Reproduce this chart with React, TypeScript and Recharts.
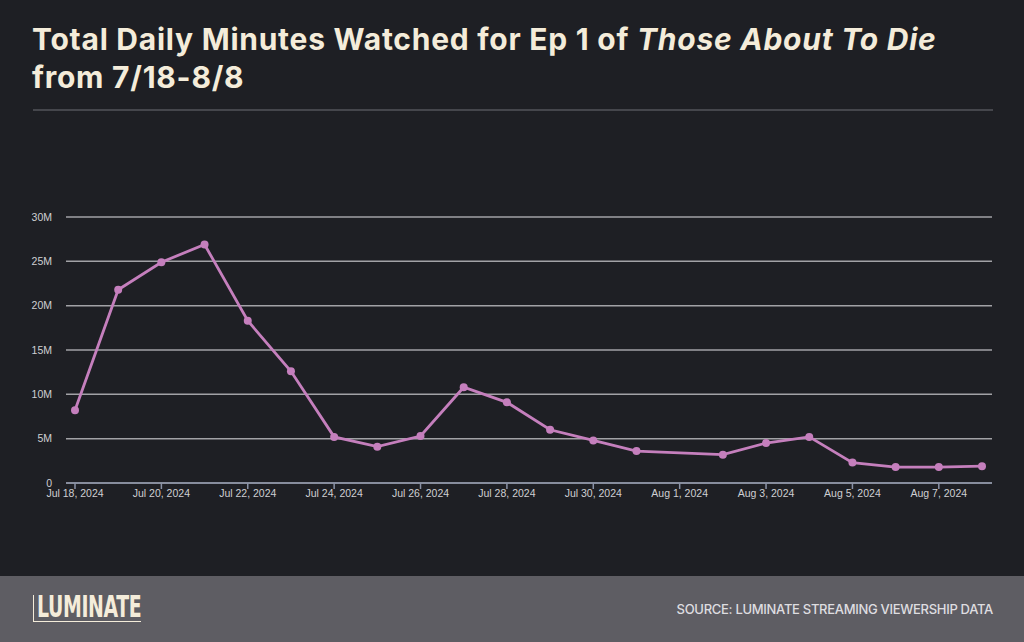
import { LineChart, Line, XAxis, YAxis, CartesianGrid } from 'recharts'

// daily minutes watched, millions (Aug 1 not reported)
const dates = [
  '2024-07-18', '2024-07-19', '2024-07-20', '2024-07-21', '2024-07-22', '2024-07-23',
  '2024-07-24', '2024-07-25', '2024-07-26', '2024-07-27', '2024-07-28', '2024-07-29',
  '2024-07-30', '2024-07-31', '2024-08-02', '2024-08-03', '2024-08-04', '2024-08-05',
  '2024-08-06', '2024-08-07', '2024-08-08',
]
const minutes = [
  8.2, 21.8, 24.9, 26.9, 18.3, 12.6,
  5.2, 4.1, 5.3, 10.8, 9.1, 6.0,
  4.8, 3.6, 3.2, 4.5, 5.2, 2.3,
  1.8, 1.8, 1.9,
]
const xTicks = [
  '2024-07-18', '2024-07-20', '2024-07-22', '2024-07-24', '2024-07-26', '2024-07-28',
  '2024-07-30', '2024-08-01', '2024-08-03', '2024-08-05', '2024-08-07',
]
const yTicks = [0, 5, 10, 15, 20, 25, 30]

const MONTHS = ['Jan', 'Feb', 'Mar', 'Apr', 'May', 'Jun', 'Jul', 'Aug', 'Sep', 'Oct', 'Nov', 'Dec']

function toTs(s: string) {
  const [y, m, d] = s.split('-').map(Number)
  return Date.UTC(y, m - 1, d)
}

function fmtDate(ts: number) {
  const d = new Date(ts)
  return `${MONTHS[d.getUTCMonth()]} ${d.getUTCDate()}, ${d.getUTCFullYear()}`
}

const data = dates.map((d, i) => ({ ts: toTs(d), value: minutes[i] }))

const CREAM = '#f4ecda'
const LINE = '#c57fbd'
const TICK_FONT = '"Liberation Sans", Arial, sans-serif'

export default function App() {
  return (
    <div
      style={{
        position: 'relative',
        width: 1024,
        height: 642,
        background: '#1e1f24',
        overflow: 'hidden',
        fontFamily: 'Inter, sans-serif',
      }}
    >
      <style>{'body{margin:0}'}</style>
      <div
        style={{
          position: 'absolute',
          left: 32,
          top: 20,
          color: CREAM,
          fontSize: 30,
          fontWeight: 700,
          lineHeight: '38px',
          letterSpacing: 0.75,
          whiteSpace: 'nowrap',
        }}
      >
        Total Daily Minutes Watched for Ep 1 of <i>Those About To Die</i>
        <br />
        from 7/18-8/8
      </div>
      <div style={{ position: 'absolute', left: 33, top: 109, width: 960, height: 2, background: '#45464c' }} />

      <div style={{ position: 'absolute', left: 0, top: 0 }}>
        <LineChart width={1024} height={576} data={data} margin={{ top: 217, right: 32, bottom: 63, left: 6 }}>
          <CartesianGrid horizontal vertical={false} stroke="#a2a2a6" strokeWidth={1.5} />
          <XAxis
            dataKey="ts"
            type="number"
            scale="time"
            domain={[toTs('2024-07-18'), toTs('2024-08-08')]}
            ticks={xTicks.map(toTs)}
            tickFormatter={fmtDate}
            padding={{ left: 9, right: 10 }}
            height={30}
            stroke="#8a92a6"
            strokeWidth={1.5}
            tickSize={6}
            tickMargin={1}
            tick={{ fill: '#cfcfd3', fontSize: 10.5, fontFamily: TICK_FONT }}
            interval={0}
          />
          <YAxis
            domain={[0, 30]}
            ticks={yTicks}
            tickFormatter={(v: number) => (v === 0 ? '0' : `${v}M`)}
            width={60}
            axisLine={false}
            tickLine={false}
            tickMargin={8}
            tick={{ fill: '#cfcfd3', fontSize: 10.5, fontFamily: TICK_FONT }}
          />
          <Line
            type="linear"
            dataKey="value"
            stroke={LINE}
            strokeWidth={2.8}
            dot={{ r: 4, fill: LINE, stroke: LINE, strokeWidth: 0 }}
            isAnimationActive={false}
          />
        </LineChart>
      </div>

      {/* footer */}
      <div style={{ position: 'absolute', left: 0, top: 576, width: 1024, height: 66, background: '#5e5d63' }}>
        <div
          style={{
            position: 'absolute',
            left: 33,
            top: 19,
            width: 107,
            height: 26,
            borderLeft: `1.5px solid ${CREAM}`,
            borderBottom: `1.5px solid ${CREAM}`,
          }}
        />
        <div
          style={{
            position: 'absolute',
            left: 37,
            top: 14,
            color: CREAM,
            fontFamily: '"DejaVu Sans Condensed", sans-serif',
            fontWeight: 700,
            fontSize: 30,
            lineHeight: '34px',
            letterSpacing: -0.5,
            transform: 'scaleX(0.7)',
            transformOrigin: 'left',
          }}
        >
          LUMINATE
        </div>
        <div
          style={{
            position: 'absolute',
            right: 31,
            top: 25,
            color: '#dedde0',
            fontFamily: 'Inter, sans-serif',
            fontWeight: 500,
            fontSize: 13,
            letterSpacing: -0.3,
          }}
        >
          SOURCE: LUMINATE STREAMING VIEWERSHIP DATA
        </div>
      </div>
    </div>
  )
}
